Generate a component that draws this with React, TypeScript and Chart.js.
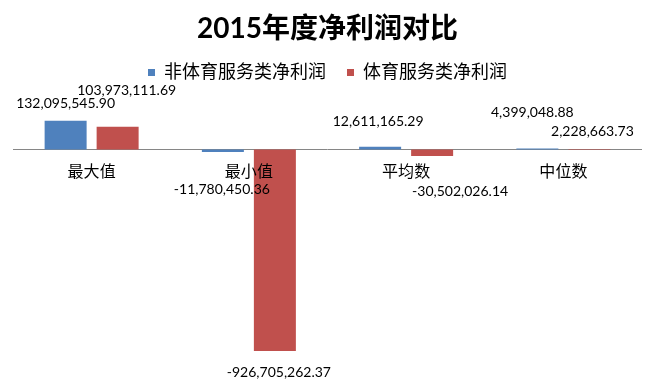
import React, { useEffect, useRef } from "react";
import { Chart, registerables } from "chart.js";

Chart.register(...registerables);

const TITLE = "2015年度净利润对比";
const CATEGORIES = ["最大值", "最小值", "平均数", "中位数"];
const SERIES_NAMES = ["非体育服务类净利润", "体育服务类净利润"];
const NON_SPORTS = [132095545.9, -11780450.36, 12611165.29, 4399048.88];
const SPORTS = [103973111.69, -926705262.37, -30502026.14, 2228663.73];
const COLORS = ["#4F81BD", "#C0504D"];

// label placement tweaks (pixel offsets from bar tip), per series
const LABEL_SHIFT = [
  [[0, -17], [-1, 38], [-2, -25], [-5, -36]],
  [[9, -36], [4, 21], [28, 35], [3, -17]],
];

const FONT = "Lato, 'Noto Sans CJK SC', sans-serif";

const fmt = (v: number) =>
  v.toLocaleString("en-US", { minimumFractionDigits: 2, maximumFractionDigits: 2 });

const overlay = {
  id: "overlay",
  beforeDatasetsDraw(chart: any) {
    const { ctx, chartArea, scales } = chart;
    const y0 = Math.round(scales.y.getPixelForValue(0)) + 0.5;
    ctx.save();
    ctx.strokeStyle = "#868686";
    ctx.lineWidth = 1;
    ctx.beginPath();
    ctx.moveTo(chartArea.left, y0);
    ctx.lineTo(chartArea.right, y0);
    ctx.stroke();
    ctx.restore();
  },
  afterDatasetsDraw(chart: any) {
    const { ctx, scales } = chart;
    const y0 = scales.y.getPixelForValue(0);
    ctx.save();
    ctx.fillStyle = "#000";
    ctx.textAlign = "center";
    ctx.textBaseline = "middle";
    ctx.font = `16px ${FONT}`;
    CATEGORIES.forEach((c, i) => {
      ctx.fillText(c, scales.x.getPixelForValue(i), y0 + 22);
    });
    ctx.font = `14px ${FONT}`;
    chart.data.datasets.forEach((ds: any, di: number) => {
      const meta = chart.getDatasetMeta(di);
      meta.data.forEach((bar: any, i: number) => {
        const [dx, dy] = LABEL_SHIFT[di][i];
        ctx.fillText(fmt(ds.data[i]), bar.x + dx, bar.y + dy);
      });
    });
    ctx.restore();
  },
};

export default function App() {
  const ref = useRef<HTMLCanvasElement>(null);
  useEffect(() => {
    document.body.style.margin = "0";
    const chart = new Chart(ref.current!, {
      type: "bar",
      data: {
        labels: CATEGORIES,
        datasets: [
          { label: SERIES_NAMES[0], data: NON_SPORTS, backgroundColor: COLORS[0] },
          { label: SERIES_NAMES[1], data: SPORTS, backgroundColor: COLORS[1] },
        ],
      },
      options: {
        responsive: false,
        animation: false,
        events: [],
        layout: { padding: { left: 13, right: 14, top: 8, bottom: 16 } },
        datasets: {
          bar: { categoryPercentage: 0.6614, barPercentage: 0.8077 },
        },
        scales: {
          x: { display: false },
          y: { display: false, min: -1000000000, max: 266000000 },
        },
        plugins: {
          title: {
            display: true,
            text: TITLE,
            color: "#000",
            font: { family: FONT, size: 28, weight: "bold", lineHeight: 1 },
            padding: { top: 6.5, bottom: 0 },
          },
          legend: {
            display: true,
            labels: {
              color: "#000",
              font: { family: FONT, size: 18 },
              boxWidth: 7,
              boxHeight: 7,
              padding: 21,
            },
          },
          tooltip: { enabled: false },
        },
      },
      plugins: [overlay],
    });
    return () => chart.destroy();
  }, []);
  return (
    <div style={{ width: 656, height: 383 }}>
      <canvas ref={ref} width={656} height={383} style={{ display: "block" }} />
    </div>
  );
}
